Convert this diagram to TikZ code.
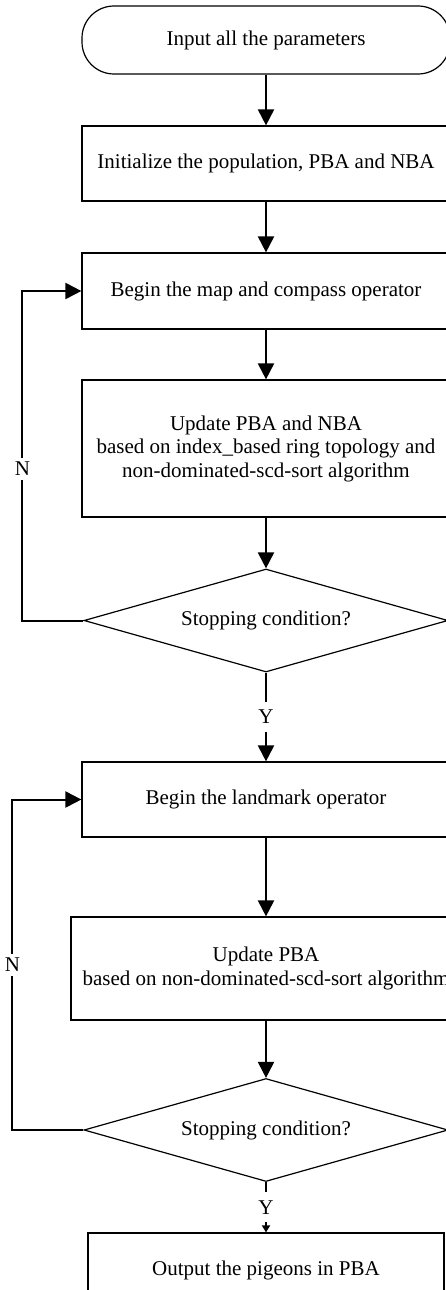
\documentclass[tikz,border=0pt]{standalone}
\usepackage{fontspec}
\setmainfont{Liberation Serif}
\usetikzlibrary{arrows.meta, positioning, shapes.geometric}
\tikzset{
  txt/.style    = {font=\fontsize{21}{23.5}\selectfont},
  box/.style    = {txt, draw, line width=1.2pt, minimum width=368pt,
                   align=center, inner sep=4pt},
  term/.style   = {box, rounded corners=32pt},
  dec/.style    = {txt, draw, diamond, line width=1.2pt, minimum width=364pt,
                   minimum height=103pt, aspect=3.5, inner sep=0pt},
  arrow/.style  = {-{Triangle[length=16pt, width=16pt]}, line width=2pt},
  small/.style  = {-{Triangle[length=7pt, width=8pt]}, line width=2pt},
  lbl/.style    = {txt, fill=white, inner xsep=2pt, inner ysep=4pt},
}

\begin{document}
\begin{tikzpicture}[x=1pt, y=-1pt]
  \useasboundingbox (0,0) rectangle (446,1290);
  % first stage: map and compass
  \node[term, minimum height=68pt] (input) at (266,40) {Input all the parameters};
  \node[box, minimum height=75pt] (init) at (266,163.5) {Initialize the population, PBA and NBA};
  \node[box, minimum height=76pt] (map) at (266,291) {Begin the map and compass operator};
  \node[box, minimum height=137pt] (upd1) at (266,448.5)
    {Update PBA and NBA\\based on index\_based ring topology and\\non-dominated-scd-sort algorithm};
  \node[dec] (stop1) at (266,620.5) {Stopping condition?};
  % second stage: landmark
  \node[box, minimum height=75pt] (land) at (266,799.5) {Begin the landmark operator};
  \node[box, minimum width=390pt, minimum height=103pt] (upd2) at (266,968.5)
    {Update PBA\\based on non-dominated-scd-sort algorithm};
  \node[dec] (stop2) at (266,1130) {Stopping condition?};
  \node[box, minimum width=356pt, minimum height=75pt] (out) at (266,1270.5) {Output the pigeons in PBA};
  % connectors
  \draw[arrow] (input) -- (init);
  \draw[arrow] (init) -- (map);
  \draw[arrow] (map) -- (upd1);
  \draw[arrow] (upd1) -- (stop1);
  \draw[arrow] (stop1) -- node[lbl, inner ysep=8pt] {Y} (land);
  \draw[arrow] (land) -- (upd2);
  \draw[arrow] (upd2) -- (stop2);
  \draw[small] (stop2) -- node[lbl, inner ysep=8pt] {Y} (out);
  % loops back
  \draw[arrow] (stop1.west) -- ++(-61,0) |- node[lbl, pos=0.23] {N} (map.west);
  \draw[arrow] (stop2.west) -- ++(-71,0) |- node[lbl, pos=0.25] {N} (land.west);
\end{tikzpicture}
\end{document}
